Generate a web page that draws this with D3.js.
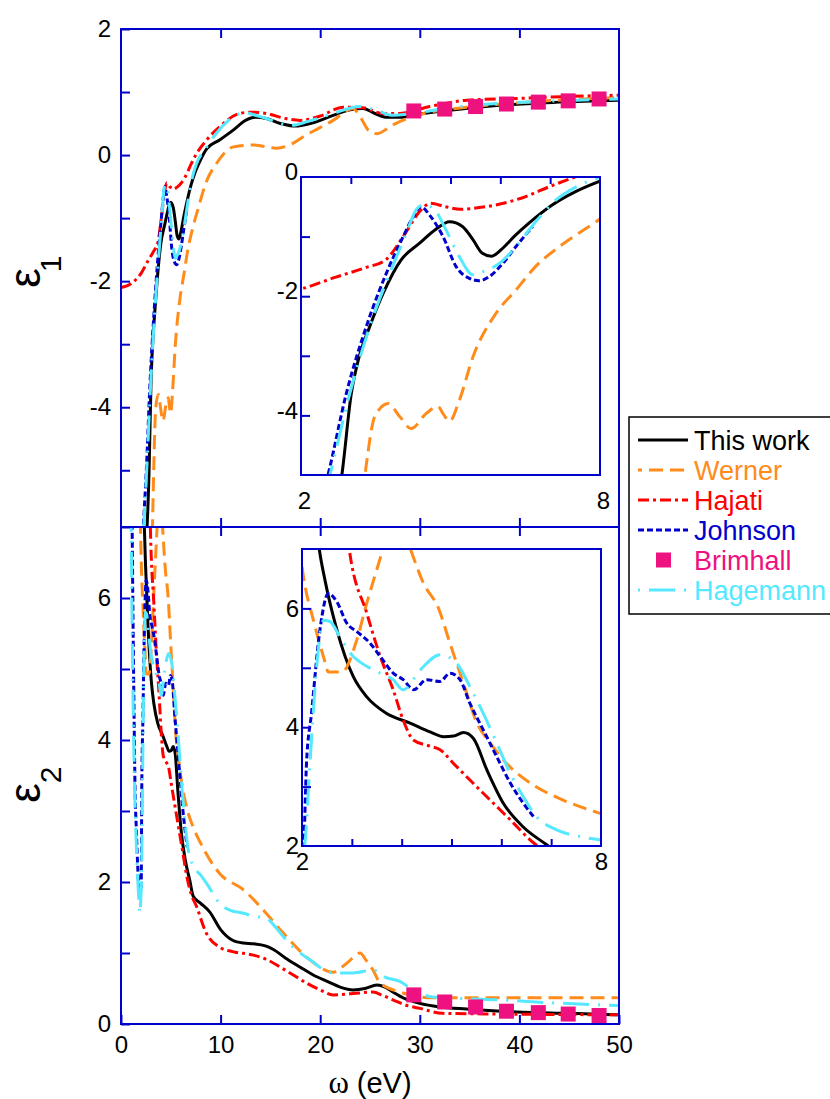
<!DOCTYPE html>
<html>
<head>
<meta charset="utf-8">
<script src="https://cdn.jsdelivr.net/npm/d3@7"></script>
<style>
  body { margin: 0; background: #fff; }
  svg { display: block; }
  text { font-family: "Liberation Sans", Arial, sans-serif; }
</style>
</head>
<body>
<svg id="chart" width="830" height="1099"></svg>
<script>
// eps1 (real part) per source, [omega eV, eps1]
const thisWorkE1 = [[2.45,-6.4],[2.82,-5.0],[3.01,-3.63],[3.15,-3.07],[3.38,-2.51],[3.65,-1.95],[4.01,-1.39],[4.38,-1.11],[4.7,-0.88],[4.98,-0.75],[5.24,-0.83],[5.45,-1.05],[5.64,-1.28],[5.82,-1.33],[6.04,-1.2],[6.3,-0.98],[6.58,-0.77],[7.04,-0.47],[7.5,-0.25],[8.0,-0.07],[8.6,0.1],[9.9,0.24],[11.3,0.4],[12.5,0.55],[13.5,0.6],[14.6,0.58],[16,0.5],[17.5,0.46],[19,0.5],[21.3,0.63],[23,0.72],[24.3,0.74],[25.5,0.66],[26.7,0.6],[28,0.6],[30,0.65],[33,0.71],[38,0.79],[44,0.84],[50,0.87]];
const wernerE1 = [[3.15,-6.0],[3.31,-4.83],[3.48,-4.02],[3.75,-3.8],[3.98,-4.02],[4.21,-4.22],[4.51,-3.97],[4.75,-3.85],[4.85,-3.97],[4.98,-4.1],[5.18,-3.74],[5.45,-3.02],[5.91,-2.29],[6.31,-1.9],[6.71,-1.5],[7.18,-1.17],[7.78,-0.83],[8.5,-0.45],[9.6,-0.13],[11.3,0.13],[13.3,0.16],[15.6,0.11],[17.3,0.19],[18.3,0.29],[21.3,0.55],[23.3,0.74],[23.8,0.66],[25,0.37],[25.7,0.34],[27.3,0.48],[29.3,0.61],[34.7,0.76],[40,0.83],[45,0.88],[50,0.91]];
const hajatiE1 = [[0,-2.1],[1,-2.04],[2,-1.88],[2.7,-1.68],[3.3,-1.52],[3.7,-1.39],[4.05,-1.0],[4.4,-0.56],[4.6,-0.44],[4.9,-0.5],[5.2,-0.54],[5.7,-0.5],[6.4,-0.36],[7.05,-0.14],[7.5,0.0],[8.6,0.24],[9.9,0.45],[11.9,0.66],[13,0.68],[14.6,0.66],[16.5,0.58],[18,0.55],[20,0.62],[22.3,0.76],[24.3,0.75],[26.3,0.66],[28,0.66],[31,0.77],[34.7,0.87],[40,0.9],[45,0.93],[50,0.95]];
const johnsonE1 = [[2.2,-6.0],[2.55,-4.97],[2.91,-3.63],[3.31,-2.51],[3.71,-1.62],[4.05,-1.0],[4.25,-0.67],[4.41,-0.5],[4.58,-0.64],[4.85,-1.0],[5.11,-1.5],[5.38,-1.7],[5.58,-1.74],[5.78,-1.67],[6.05,-1.45],[6.31,-1.17],[6.65,-0.83]];
const hagemannE1 = [[2.25,-6.0],[2.58,-5.0],[2.98,-3.63],[3.38,-2.51],[3.78,-1.62],[4.11,-0.95],[4.31,-0.55],[4.45,-0.47],[4.65,-0.52],[4.91,-0.89],[5.18,-1.34],[5.45,-1.64],[5.65,-1.59],[5.98,-1.45],[6.31,-1.17],[6.71,-0.75],[7.11,-0.39],[7.58,-0.14],[8.5,0.1],[9.6,0.35],[10.8,0.55],[11.9,0.66],[12.3,0.68],[13.3,0.64],[14.6,0.58],[16,0.5],[17,0.47],[18.7,0.53],[21.3,0.66],[24,0.77],[25.7,0.71],[27.3,0.63],[30,0.68],[34,0.77],[38,0.82],[44,0.86],[50,0.89]];

// eps2 (imaginary part) per source
const thisWorkE2 = [[2.3,7.3],[2.35,6.98],[2.46,6.48],[2.7,5.64],[3.03,4.85],[3.3,4.51],[3.7,4.23],[4.17,4.07],[4.57,3.92],[4.84,3.84],[5.04,3.85],[5.24,3.91],[5.44,3.81],[5.71,3.28],[6.04,2.72],[6.44,2.32],[6.91,2.02],[7.25,1.8],[8.0,1.7],[8.9,1.58],[10,1.33],[11.2,1.18],[12.3,1.14],[13.3,1.13],[14.5,1.1],[15.3,1.05],[16.5,0.93],[18,0.8],[19.3,0.69],[20.7,0.6],[22,0.52],[23.3,0.48],[24.5,0.5],[25.7,0.55],[26.5,0.52],[27.3,0.45],[28.3,0.37],[30,0.29],[32,0.24],[34.7,0.21],[39.7,0.17],[45,0.15],[50,0.13]];
const wernerE2 = [[1.9,7.4],[2.03,6.53],[2.23,5.8],[2.43,5.19],[2.53,4.93],[2.8,4.93],[3.1,5.47],[3.3,6.09],[3.5,6.65],[3.63,7.01],[3.8,7.4],[4.0,7.4],[4.17,7.01],[4.44,6.42],[4.74,6.0],[4.97,5.41],[5.24,4.74],[5.51,4.07],[5.78,3.73],[6.04,3.45],[6.58,3.06],[7.25,2.77],[7.98,2.55],[9.9,2.12],[12.3,1.89],[14,1.65],[16.3,1.28],[19,0.9],[21.3,0.73],[22.7,0.86],[24,1.0],[24.6,0.9],[25.3,0.76],[26,0.58],[28,0.45],[31.3,0.37],[40,0.37],[50,0.37]];
const hajatiE2 = [[2.9,7.3],[2.96,6.93],[3.3,5.92],[3.57,5.19],[3.83,4.63],[4.03,4.12],[4.24,3.78],[4.57,3.68],[4.77,3.62],[5.04,3.39],[5.37,3.11],[5.78,2.77],[6.18,2.44],[6.65,2.05],[7.0,1.85],[7.6,1.65],[8.5,1.3],[9.9,1.08],[11.2,1.02],[13.3,0.97],[14.6,0.91],[16,0.8],[17.3,0.69],[18.7,0.57],[20,0.48],[21.3,0.41],[23.3,0.43],[25.3,0.45],[26.3,0.4],[27.3,0.34],[28.5,0.27],[30,0.22],[32.3,0.15],[38,0.14],[50,0.13]];
const johnsonE2 = [[1.1,7.3],[1.2,5.8],[1.3,4.5],[1.4,3.4],[1.55,2.7],[1.7,2.15],[1.85,1.82],[1.95,1.85],[2.03,2.0],[2.09,3.39],[2.19,4.23],[2.36,5.64],[2.53,6.25],[2.7,6.11],[2.9,5.75],[3.1,5.61],[3.37,5.41],[3.57,5.19],[3.83,4.91],[4.03,4.8],[4.24,4.63],[4.5,4.8],[4.77,4.77],[4.97,4.91],[5.17,4.8],[5.37,4.4],[5.64,3.95],[5.91,3.5],[6.18,3.06],[6.44,2.72],[6.65,2.49]];
const hagemannE2 = [[1.0,7.3],[1.1,5.9],[1.2,4.7],[1.3,3.8],[1.45,2.9],[1.6,2.3],[1.75,1.85],[1.9,1.56],[2.0,1.8],[2.06,2.05],[2.16,3.39],[2.3,5.07],[2.43,5.8],[2.56,5.78],[2.76,5.52],[3.03,5.19],[3.16,5.1],[3.57,4.91],[3.83,4.8],[4.03,4.63],[4.37,4.96],[4.77,5.22],[5.11,5.07],[5.37,4.68],[5.64,4.23],[5.91,3.73],[6.18,3.22],[6.44,2.83],[6.71,2.49],[7.11,2.27],[7.58,2.16],[7.98,2.1],[8.6,1.98],[9.9,1.7],[11,1.6],[12.3,1.56],[13.3,1.52],[14.6,1.49],[15.6,1.35],[16.6,1.18],[19,0.9],[21.3,0.72],[23.3,0.72],[25.3,0.76],[26.5,0.66],[28,0.6],[29.3,0.48],[31.3,0.38],[38,0.34],[43,0.3],[50,0.26]];

// Brimhall points
const brimhallOmega = [29.4, 32.5, 35.6, 38.7, 41.9, 44.9, 48.0];
const brimhallE1 = [0.70, 0.73, 0.77, 0.81, 0.84, 0.86, 0.89];
const brimhallE2 = [0.41, 0.31, 0.24, 0.18, 0.16, 0.14, 0.12];

const legendNames = ['This work', 'Werner', 'Hajati', 'Johnson', 'Brimhall', 'Hagemann'];
const xTicks = [0, 10, 20, 30, 40, 50];
const e1Ticks = [-5, -4, -3, -2, -1, 0, 1, 2];
const e2Ticks = [0, 1, 2, 3, 4, 5, 6, 7];

const axisBlue = '#0000cc';
const series = [
  {name: 'This work', color: '#000000', dash: null, e1: thisWorkE1, e2: thisWorkE2},
  {name: 'Werner', color: '#ff8c1a', dash: '14,7', e1: wernerE1, e2: wernerE2},
  {name: 'Hajati', color: '#ff0000', dash: '11,4,3,4', e1: hajatiE1, e2: hajatiE2},
  {name: 'Johnson', color: '#0000cc', dash: '6,3', e1: johnsonE1, e2: johnsonE2},
  {name: 'Hagemann', color: '#55e8ff', dash: '26,9,2,9', e1: hagemannE1, e2: hagemannE2}
];
const pink = '#ee1180';

const svg = d3.select('#chart');

// scales
const x = d3.scaleLinear().domain([0, 50]).range([121, 619]);
const yTop = d3.scaleLinear().domain([-5.9, 2]).range([527, 29]);
const yBot = d3.scaleLinear().domain([0, 7]).range([1024, 527]);
const xIn1 = d3.scaleLinear().domain([2, 8]).range([301, 600]);
const yIn1 = d3.scaleLinear().domain([-5, 0]).range([475, 177]);
const xIn2 = d3.scaleLinear().domain([2, 8]).range([302, 601]);
const yIn2 = d3.scaleLinear().domain([2, 7]).range([846, 549]);

const fmt = d => String(d);
const defs = svg.append('defs');

function styleAxis(g) {
  g.select('.domain').remove();
  g.selectAll('line').attr('stroke', axisBlue).attr('stroke-width', 2);
  g.selectAll('text').attr('fill', '#000').attr('font-size', 24)
    .attr('font-family', '"Liberation Sans", Arial, sans-serif');
}

// draws all series of one quantity into a clipped box
function drawCurves(id, xs, ys, key, squares) {
  const [x0, x1] = xs.range();
  const [y0, y1] = ys.range();
  defs.append('clipPath').attr('id', id)
    .append('rect').attr('x', x0).attr('y', y1).attr('width', x1 - x0).attr('height', y0 - y1);
  const g = svg.append('g').attr('clip-path', `url(#${id})`);
  const line = d3.line().x(d => xs(d[0])).y(d => ys(d[1])).curve(d3.curveMonotoneX);
  series.forEach(s => {
    g.append('path')
      .attr('d', line(s[key]))
      .attr('fill', 'none')
      .attr('stroke', s.color)
      .attr('stroke-width', 3)
      .attr('stroke-dasharray', s.dash);
  });
  if (squares) {
    g.selectAll('rect.sq')
      .data(brimhallOmega.map((w, i) => [w, squares[i]]))
      .enter().append('rect')
      .attr('class', 'sq')
      .attr('x', d => xs(d[0]) - 7.5)
      .attr('y', d => ys(d[1]) - 7.5)
      .attr('width', 15).attr('height', 15)
      .attr('fill', pink);
  }
}

function frame(xs, ys) {
  const [x0, x1] = xs.range();
  const [y0, y1] = ys.range();
  svg.append('rect').attr('x', x0).attr('y', y1).attr('width', x1 - x0).attr('height', y0 - y1)
    .attr('fill', 'none').attr('stroke', axisBlue).attr('stroke-width', 2);
}

// ---- main panels ----
drawCurves('clipTop', x, yTop, 'e1', brimhallE1);
drawCurves('clipBot', x, yBot, 'e2', brimhallE2);

svg.append('g').attr('transform', 'translate(121,0)')
  .call(d3.axisLeft(yTop).tickValues(e1Ticks).tickSize(-9).tickPadding(10)
    .tickFormat(d => d % 2 === 0 ? fmt(d) : ''))
  .call(styleAxis);
svg.append('g').attr('transform', 'translate(121,0)')
  .call(d3.axisLeft(yBot).tickValues(e2Ticks).tickSize(-9).tickPadding(10)
    .tickFormat(d => d % 2 === 0 && d < 7 ? fmt(d) : ''))
  .call(styleAxis);

const inner = [10, 20, 30, 40];
svg.append('g').attr('transform', 'translate(0,29)')
  .call(d3.axisTop(x).tickValues(inner).tickSize(-9).tickFormat('')).call(styleAxis);
svg.append('g').attr('transform', 'translate(0,527)')
  .call(d3.axisBottom(x).tickValues(inner).tickSize(-9).tickFormat('')).call(styleAxis);
svg.append('g').attr('transform', 'translate(0,527)')
  .call(d3.axisTop(x).tickValues(inner).tickSize(-9).tickFormat('')).call(styleAxis);
svg.append('g').attr('transform', 'translate(0,1024)')
  .call(d3.axisBottom(x).tickValues(xTicks).tickSize(-9).tickPadding(12).tickFormat(fmt))
  .call(styleAxis);

frame(x, yTop);
frame(x, yBot);

// ---- inset 1 (eps1, 2-8 eV) ----
svg.append('rect').attr('x', 301).attr('y', 177).attr('width', 299).attr('height', 298).attr('fill', '#fff');
drawCurves('clipIn1', xIn1, yIn1, 'e1', null);
svg.append('g').attr('transform', 'translate(301,0)')
  .call(d3.axisLeft(yIn1).tickValues([-4, -3, -2, -1]).tickSize(-9).tickFormat('')).call(styleAxis);
svg.append('g').attr('transform', 'translate(301,-5)')
  .call(d3.axisLeft(yIn1).tickValues([-4, -2, 0]).tickSize(0).tickPadding(3).tickFormat(fmt)).call(styleAxis);
svg.append('g').attr('transform', 'translate(0,177)')
  .call(d3.axisTop(xIn1).tickValues([3, 4, 5, 6, 7]).tickSize(-7).tickFormat('')).call(styleAxis);
svg.append('g').attr('transform', 'translate(3,475)')
  .call(d3.axisBottom(xIn1).tickValues([2, 8]).tickSize(0).tickPadding(17).tickFormat(fmt)).call(styleAxis);
frame(xIn1, yIn1);

// ---- inset 2 (eps2, 2-8 eV) ----
svg.append('rect').attr('x', 302).attr('y', 549).attr('width', 299).attr('height', 297).attr('fill', '#fff');
drawCurves('clipIn2', xIn2, yIn2, 'e2', null);
svg.append('g').attr('transform', 'translate(302,0)')
  .call(d3.axisLeft(yIn2).tickValues([3, 4, 5, 6]).tickSize(-9).tickPadding(3)
    .tickFormat(d => d % 2 === 0 ? fmt(d) : '')).call(styleAxis);
svg.append('g').attr('transform', 'translate(302,0)')
  .call(d3.axisLeft(yIn2).tickValues([2]).tickSize(0).tickPadding(3).tickFormat(fmt)).call(styleAxis);
svg.append('g').attr('transform', 'translate(0,846)')
  .call(d3.axisBottom(xIn2).tickValues([3, 4, 5, 6, 7]).tickSize(-7).tickFormat('')).call(styleAxis);
svg.append('g').attr('transform', 'translate(0,846)')
  .call(d3.axisBottom(xIn2).tickValues([2, 8]).tickSize(0).tickPadding(7).tickFormat(fmt)).call(styleAxis);
frame(xIn2, yIn2);

// ---- axis titles ----
function epsLabel(cy, sub, subOff) {
  svg.append('text')
    .attr('transform', `translate(40,${cy}) rotate(-90)`)
    .attr('text-anchor', 'middle')
    .attr('font-family', '"Liberation Serif", "Times New Roman", serif')
    .attr('font-size', 44)
    .text('\u03b5');
  svg.append('text')
    .attr('transform', `translate(61,${cy - subOff}) rotate(-90)`)
    .attr('text-anchor', 'middle')
    .attr('font-size', 30)
    .text(sub);
}
epsLabel(278, '1', 14);
epsLabel(793, '2', 18);

const xt = svg.append('text').attr('x', 370).attr('y', 1093).attr('text-anchor', 'middle').attr('font-size', 29);
xt.append('tspan').attr('font-family', '"Liberation Serif", "Times New Roman", serif').attr('font-size', 31).text('\u03c9');
xt.append('tspan').text(' (eV)');

// ---- legend ----
const leg = svg.append('g');
leg.append('rect').attr('x', 629).attr('y', 417).attr('width', 220).attr('height', 197)
  .attr('fill', '#fff').attr('stroke', '#000').attr('stroke-width', 1.5);
const legColors = {'Brimhall': pink};
series.forEach(s => legColors[s.name] = s.color);
const legOffset = {'Werner': 10, 'Hagemann': 35};
legendNames.forEach((name, i) => {
  const cy = 440 + i * 30;
  const s = series.find(d => d.name === name);
  if (s) {
    leg.append('line').attr('x1', 638).attr('x2', 688).attr('y1', cy).attr('y2', cy)
      .attr('stroke', s.color).attr('stroke-width', 3).attr('stroke-dasharray', s.dash)
      .attr('stroke-dashoffset', legOffset[name] || 0);
  } else {
    leg.append('rect').attr('x', 656).attr('y', cy - 7.5).attr('width', 15).attr('height', 15).attr('fill', pink);
  }
  leg.append('text').attr('x', 694).attr('y', cy + 10).attr('font-size', 27)
    .attr('fill', legColors[name]).text(name);
});
</script>
</body>
</html>
